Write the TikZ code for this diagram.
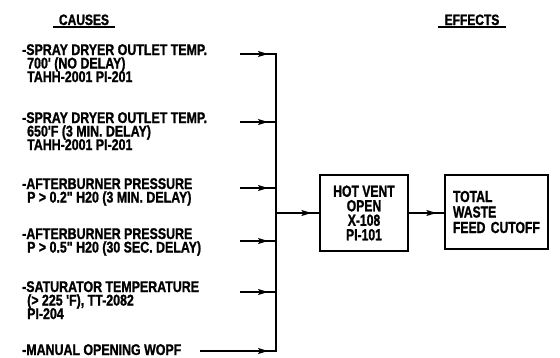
\documentclass[tikz,border=0pt]{standalone}
\usepackage{fontspec}
\newfontfamily\cadfont{Liberation Sans}[FakeStretch=0.8,FakeBold=1.2]
\newfontfamily\cadboxfont{Liberation Sans}[FakeStretch=0.76,FakeBold=1.2]
\usetikzlibrary{arrows.meta}
\newcommand\causelines[1]{\vtop{\baselineskip=13.5pt\lineskiplimit=-30pt\lineskip=0pt\halign{##\hfil\cr#1\crcr}}}
\newcommand\ind{\hspace*{5pt}}
\tikzset{
  cadtext/.style={inner sep=0pt, font=\cadfont\bfseries\fontsize{15.5}{13.5}\selectfont},
  cause/.style={cadtext, anchor=base west},
  head/.style={inner sep=0pt, anchor=base, font=\cadfont\bfseries\fontsize{15}{15}\selectfont},
  ul/.style={line width=1.1pt},
  wire/.style={line width=1.3pt},
  tip/.style={line width=1.3pt, -{Stealth[length=10pt,width=6pt,inset=2pt]}},
  box/.style={draw, line width=1.2pt, inner sep=0pt,
      font=\cadboxfont\bfseries\fontsize{16}{14.5}\selectfont}
}
\begin{document}
\begin{tikzpicture}[x=1pt,y=-1pt]
\useasboundingbox (0,0) rectangle (560,357);
% headers
\node[head] (causes) at (84,25) {CAUSES};
\node[head] (effects) at (472,25) {EFFECTS};
\draw[ul] ([xshift=-6pt,yshift=-2pt]causes.base west) -- ([xshift=6pt,yshift=-2pt]causes.base east);
\draw[ul] ([xshift=-6pt,yshift=-2pt]effects.base west) -- ([xshift=6pt,yshift=-2pt]effects.base east);
% causes
\node[cause] (c1) at (22,55) {\causelines{-SPRAY DRYER OUTLET TEMP.\cr\ind 700' (NO DELAY)\cr\ind TAHH-2001 PI-201}};
\node[cause] (c2) at (22,123) {\causelines{-SPRAY DRYER OUTLET TEMP.\cr\ind 650'F (3 MIN. DELAY)\cr\ind TAHH-2001 PI-201}};
\node[cause] (c3) at (22,189) {\causelines{-AFTERBURNER PRESSURE\cr\ind P > 0.2" H20 (3 MIN. DELAY)}};
\node[cause] (c4) at (22,239) {\causelines{-AFTERBURNER PRESSURE\cr\ind P > 0.5" H20 (30 SEC. DELAY)}};
\node[cause] (c5) at (22,292) {\causelines{-SATURATOR TEMPERATURE\cr\ind (> 225 'F), TT-2082\cr\ind PI-204}};
\node[cause] (c6) at (22,355) {\causelines{-MANUAL OPENING WOPF}};
% line starts and bus points
\coordinate (s1) at (240,54);  \coordinate (b1) at (276,54);
\coordinate (s2) at (240,122); \coordinate (b2) at (276,122);
\coordinate (s3) at (240,188); \coordinate (b3) at (276,188);
\coordinate (s4) at (240,241); \coordinate (b4) at (276,241);
\coordinate (s5) at (240,292); \coordinate (b5) at (276,292);
\coordinate (s6) at (200,351); \coordinate (b6) at (276,351);
\coordinate (bm) at (276,213);
\foreach \i in {1,...,6} {
  \draw[wire] (s\i) -- (b\i);
  \draw[tip] (s\i) -- ([xshift=-8pt]b\i);
}
\draw[wire, line cap=rect] (b1) -- (b6);
% effects boxes
\node[box, minimum width=88pt, minimum height=76pt, align=center] (hv) at (364,213)
  {HOT VENT\\OPEN\\X-108\\PI-101};
\node[box, minimum height=74pt, text width=87pt, inner xsep=8pt, align=left,
  font=\cadboxfont\bfseries\fontsize{16}{15.5}\selectfont] (tw) at (496.5,212)
  {TOTAL\\WASTE\\FEED CUTOFF};
\draw[wire] (bm) -- (hv.west);
\draw[tip] (bm) -- ([xshift=-8pt]hv.west);
\draw[wire] (hv.east) -- (tw.west |- hv.east);
\draw[tip] (hv.east) -- ([xshift=-8pt]tw.west |- hv.east);
\end{tikzpicture}
\end{document}
